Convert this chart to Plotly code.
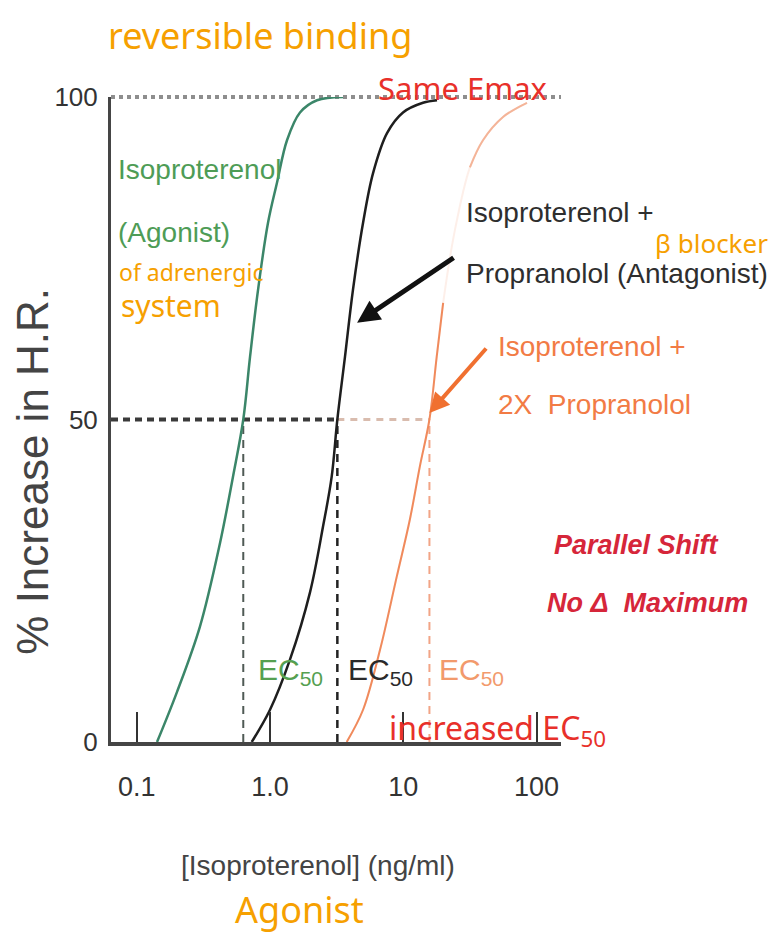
import math
import plotly.graph_objects as go

# ---------------- data ----------------
green_x = [0.142, 0.200, 0.298, 0.422, 0.527, 0.63, 0.708, 0.813, 0.966, 1.128, 1.341, 1.679, 2.253, 3.53]
green_y = [0, 7.7, 17.9, 30.9, 41.1, 50, 59.7, 70.1, 80.5, 86.7, 93.3, 97.6, 99.5, 100]

black_x = [0.729, 1.0, 1.413, 1.995, 2.498, 2.90, 3.2, 3.65, 4.19, 4.99, 5.93, 7.55, 9.95, 14.05, 17.9]
black_y = [0, 5.0, 12.8, 23.2, 33.4, 41.1, 50, 59.7, 70.1, 80.5, 88.2, 94.4, 97.6, 99.1, 99.5]

orange_x = [3.76, 4.99, 6.69, 8.92, 11.2, 13.3, 15.7, 17.8, 19.9, 24.4, 31.6, 39.6, 56.0, 84.7]
orange_y = [0, 5.0, 14.3, 25.6, 34.5, 42.7, 50, 59.7, 68.1, 79.4, 89.1, 93.3, 96.9, 99.1]

ec50_green = 0.63
ec50_black = 3.2
ec50_orange = 15.7
half_response = 50
emax = 100

x_tickvals = [0.1, 1, 10, 100]
x_ticktext = ["0.1", "1.0", "10", "100"]
y_tickvals = [0, 50, 100]
y_ticktext = ["0", "50", "100"]

x_log_range = [-1.193, 2.183]
y_range = [0, 100]
x_min = 10 ** x_log_range[0]
x_max = 10 ** x_log_range[1]

# ---------------- layout geometry (page pixels) ----------------
OFF = 8                      # page body margin
PAGE_W, PAGE_H = 777, 944
W, H = PAGE_W - OFF, PAGE_H - OFF
AX_L, AX_R, AX_T, AX_B = 111, 561, 97, 742.5     # plot area in page pixels
L, T = AX_L - OFF, AX_T - OFF
R = W - (AX_R - OFF)
B = H - (AX_B - OFF)
PW, PH = AX_R - AX_L, AX_B - AX_T


def px(x):
    return (x - AX_L) / PW


def py(y):
    return (AX_B - y) / PH


SANS = "Liberation Sans, Arial, sans-serif"
HAND = "Noto Sans, Lato, sans-serif"
HAND_ORANGE = "#f6a000"
HAND_RED = "#e8302a"

GREEN_LINE = "#3b8669"
GREEN_TEXT = "#4e9c56"
BLACK_LINE = "#1e1e1e"
ORANGE_LINE = "#f08a5c"
ORANGE_TEXT = "#f27b45"

fig = go.Figure()

# 50% dashed guides
fig.add_trace(go.Scatter(x=[x_min, ec50_black], y=[half_response, half_response], mode="lines",
                         line=dict(color="#3a3a3a", width=4, dash="7px,5px"), hoverinfo="skip"))
fig.add_trace(go.Scatter(x=[ec50_black, ec50_orange], y=[half_response, half_response], mode="lines",
                         line=dict(color="#d9bcae", width=3, dash="7px,6px"), hoverinfo="skip"))
fig.add_trace(go.Scatter(x=[ec50_green, ec50_green], y=[0, half_response], mode="lines",
                         line=dict(color="#4f5a55", width=2, dash="8px,6px"), hoverinfo="skip"))
fig.add_trace(go.Scatter(x=[ec50_black, ec50_black], y=[0, half_response], mode="lines",
                         line=dict(color="#222222", width=2.5, dash="8px,6px"), hoverinfo="skip"))
fig.add_trace(go.Scatter(x=[ec50_orange, ec50_orange], y=[0, half_response], mode="lines",
                         line=dict(color="#f2a486", width=2, dash="8px,6px"), hoverinfo="skip"))

# curves
fig.add_trace(go.Scatter(x=green_x, y=green_y, mode="lines", line=dict(color=GREEN_LINE, width=2.5, shape="spline"),
                         name="Isoproterenol"))
fig.add_trace(go.Scatter(x=black_x, y=black_y, mode="lines", line=dict(color=BLACK_LINE, width=2.5, shape="spline"),
                         name="Isoproterenol + Propranolol"))
fig.add_trace(go.Scatter(x=orange_x, y=orange_y, mode="lines",
                         line=dict(color="rgba(240,150,110,0.15)", width=2, shape="spline"), hoverinfo="skip"))
fig.add_trace(go.Scatter(x=orange_x[:9], y=orange_y[:9], mode="lines",
                         line=dict(color=ORANGE_LINE, width=2, shape="spline"), name="Isoproterenol + 2X Propranolol"))
fig.add_trace(go.Scatter(x=orange_x[10:], y=orange_y[10:], mode="lines",
                         line=dict(color="#f4b498", width=2, shape="spline"), hoverinfo="skip"))

ann = []


def text(x, y, s, size, color, family=SANS, xanchor="left", yanchor="middle", angle=0):
    ann.append(dict(xref="paper", yref="paper", x=px(x), y=py(y), text=s, showarrow=False,
                    xanchor=xanchor, yanchor=yanchor, textangle=angle,
                    font=dict(size=size, color=color, family=family)))


# axis titles
text(33, 472, "% Increase in H.R.", 44, "#444444", xanchor="center", angle=-90)
text(318, 866, "[Isoproterenol] (ng/ml)", 28, "#444444", xanchor="center")

# curve labels
text(116, 170, "Isoproterenol", 28, GREEN_TEXT)
text(116, 233, "(Agonist)", 28, GREEN_TEXT)
text(464, 213, "Isoproterenol +", 28, "#2e2e2e")
text(464, 274, "Propranolol (Antagonist)", 28, "#2e2e2e")
text(496, 347, "Isoproterenol +", 28, ORANGE_TEXT)
text(496, 405, "2X\u00a0 Propranolol", 28, ORANGE_TEXT)

# EC50 labels
text(256, 672, "EC<sub>50</sub>", 30, "#55a050")
text(346, 672, "EC<sub>50</sub>", 30, "#2a2a2a")
text(437, 672, "EC<sub>50</sub>", 30, "#f29a6c")

# red statement
text(636, 545, "<b><i>Parallel Shift</i></b>", 27, "#d6263a", xanchor="center")
text(647, 603, "<b><i>No \u0394\u00a0 Maximum</i></b>", 27, "#d6263a", xanchor="center")

# handwritten notes
text(260, 35, "reversible binding", 36, HAND_ORANGE, family=HAND, xanchor="center")
text(462, 88, "Same Emax", 31, HAND_RED, family=HAND, xanchor="center")
text(117, 272, "of adrenergic", 23, HAND_ORANGE, family=HAND)
text(119, 306, "system", 30, HAND_ORANGE, family=HAND)
text(711, 243, "\u03b2 blocker", 26, HAND_ORANGE, family=HAND, xanchor="center")
text(497, 730, "increased EC<sub>50</sub>", 32, HAND_RED, family=HAND, xanchor="center")
text(299, 910, "Agonist", 36, HAND_ORANGE, family=HAND, xanchor="center")

# arrows (log-axis annotation coordinates)
ann.append(dict(xref="x", yref="y", x=math.log10(4.5), y=65, ax=98, ay=-66, text="", showarrow=True,
                arrowhead=2, arrowsize=0.9, arrowwidth=5, arrowcolor="#111111"))
ann.append(dict(xref="x", yref="y", x=math.log10(ec50_orange), y=51, ax=58, ay=-66, text="", showarrow=True,
                arrowhead=2, arrowsize=1, arrowwidth=4, arrowcolor="#f07030"))

# Emax dotted reference line (paper-referenced so it is not clipped at the plot edge)
emax_paper = (emax - y_range[0]) / (y_range[1] - y_range[0])
shapes = [dict(type="line", xref="paper", yref="paper", x0=0, x1=1, y0=emax_paper, y1=emax_paper,
               line=dict(color="#8e8e8e", width=4, dash="dot"), layer="below")]

fig.update_layout(
    width=W, height=H, autosize=False,
    margin=dict(l=L, r=R, t=T, b=B, pad=0),
    paper_bgcolor="white", plot_bgcolor="white",
    showlegend=False,
    annotations=ann,
    shapes=shapes,
    xaxis=dict(type="log", range=x_log_range, showgrid=False, zeroline=False,
               showline=True, linecolor="#454545", linewidth=4,
               ticks="inside", ticklen=30, tickwidth=2, tickcolor="#333333",
               tickvals=x_tickvals, ticktext=x_ticktext, ticklabelstandoff=18,
               tickfont=dict(family=SANS, size=27, color="#333333")),
    yaxis=dict(range=y_range, showgrid=False, zeroline=False,
               showline=True, linecolor="#454545", linewidth=3,
               ticks="", tickvals=y_tickvals, ticktext=y_ticktext, ticklabelstandoff=5,
               tickfont=dict(family=SANS, size=26, color="#333333")),
)

fig.write_html("out.html")
